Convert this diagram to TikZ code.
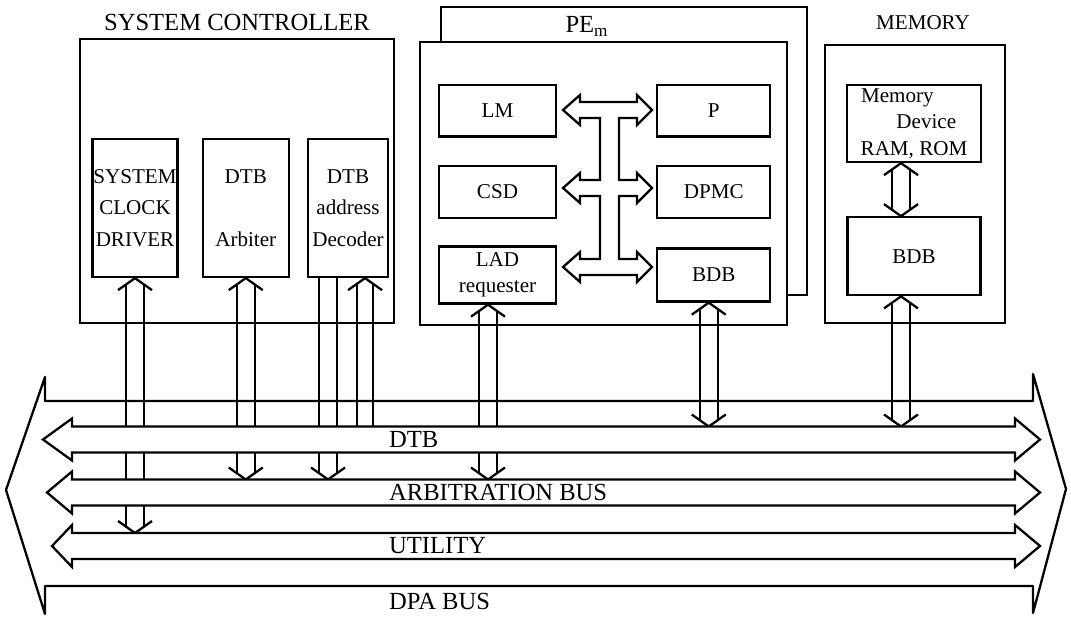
\documentclass[tikz,border=0pt]{standalone}
\usepackage{fontspec}
\setmainfont{Liberation Serif}
\usetikzlibrary{positioning, calc}

\begin{document}
\begin{tikzpicture}[x=0.02cm, y=-0.02cm, line width=1.3pt,
        % Style definitions
        block/.style={
            rectangle,
            draw=black,
            line width=1.3pt,
            align=center,
            inner sep=0pt,
            font=\fontsize{12}{18}\selectfont
        },
        boxtitle/.style={
            inner sep=0pt,
            font=\fontsize{14}{16}\selectfont
        },
        buslabel/.style={
            inner sep=0pt,
            anchor=west,
            font=\fontsize{14}{16}\selectfont
        },
        bus/.style={
            draw=black,
            fill=white,
            line join=miter
        },
        uphead/.style={insert path={++(-17,12) -- ++(17,-12) -- ++(17,12)}},
        downhead/.style={insert path={++(-17,-12) -- ++(17,12) -- ++(17,-12)}}
    ]
        \useasboundingbox (0,0) rectangle (1071,617);

        % ==========================================
        % System controller
        % ==========================================
        \node[block, minimum width=6.28cm, minimum height=5.68cm] (sysctrl) at (237,181) {};
        \node[boxtitle, above=0.12cm of sysctrl] (sctitle) {SYSTEM CONTROLLER};
        \node[block, minimum width=1.7cm, minimum height=2.76cm] (clock) at (135,208) {SYSTEM\\CLOCK\\DRIVER};
        \node[block, minimum width=1.72cm, minimum height=2.76cm, right=0.46cm of clock] (arbiter) {DTB\\[18pt]Arbiter};
        \node[block, minimum width=1.6cm, minimum height=2.76cm, right=0.34cm of arbiter] (decoder) {DTB\\address\\Decoder};

        % ==========================================
        % Processing element (with the card behind it)
        % ==========================================
        \draw (441,42) |- (807,7) |- (787,295);
        \node[block, minimum width=7.34cm, minimum height=5.66cm] (pe) at (603.5,183.5) {};
        \node[boxtitle, anchor=base] (petitle) at (587,33) {PE\textsubscript{m}};
        \node[block, minimum width=2.34cm, minimum height=1.03cm] (lm) at (497.5,110.75) {LM};
        \node[block, minimum width=2.26cm, minimum height=1.03cm, right=1.98cm of lm] (p) {P};
        \node[block, minimum width=2.34cm, minimum height=1.04cm, below=0.54cm of lm] (csd) {CSD};
        \node[block, minimum width=2.26cm, minimum height=1.04cm, right=1.98cm of csd] (dpmc) {DPMC};
        \node[block, minimum width=2.34cm, minimum height=1.14cm, below=0.53cm of csd,
              font=\fontsize{12}{15}\selectfont] (lad) {LAD\\requester};
        \node[block, minimum width=2.26cm, minimum height=1.06cm, right=1.98cm of lad] (pebdb) {BDB};

        % Local bus inside the PE
        \draw (563,110) -- (580,95) -- (580,102) -- (637,102) -- (637,95) -- (652,110) -- (637,125) -- (637,118)
            -- (619,118) -- (619,180) -- (637,180) -- (637,173) -- (652,188) -- (637,203) -- (637,196)
            -- (619,196) -- (619,259) -- (637,259) -- (637,252) -- (652,267) -- (637,282) -- (637,275)
            -- (580,275) -- (580,282) -- (563,267) -- (580,252) -- (580,259)
            -- (600,259) -- (600,196) -- (580,196) -- (580,203) -- (563,188) -- (580,173) -- (580,180)
            -- (600,180) -- (600,118) -- (580,118) -- (580,125) -- cycle;

        % ==========================================
        % Memory
        % ==========================================
        \node[block, minimum width=3.6cm, minimum height=5.56cm] (memory) at (915,184) {};
        \node[boxtitle, above=0.26cm of memory, xshift=0.16cm, font=\fontsize{12}{14}\selectfont] (memtitle) {MEMORY};
        \node[block, minimum width=2.68cm, minimum height=1.54cm, font=\fontsize{12}{15}\selectfont] (memdev)
            at (914,123.5) {Memory\hspace*{19pt}\\\hspace*{14pt}Device\\RAM, ROM};
        \node[block, minimum width=2.66cm, minimum height=1.56cm, below=1.06cm of memdev] (membdb) {BDB};

        % ==========================================
        % Connections to the buses
        % ==========================================
        \coordinate (dtbtop) at (0,426.5);
        \coordinate (arbtop) at (0,479.5);
        \coordinate (utiltop) at (0,533);
        \coordinate (decout) at ([xshift=-0.4cm]decoder.south);
        \coordinate (decin) at ([xshift=0.34cm]decoder.south);
        \coordinate (ladbus) at ([xshift=-0.19cm]lad.south);
        \coordinate (pebus) at ([xshift=-0.1cm]pebdb.south);
        \coordinate (membus) at ([xshift=-0.26cm]membdb.south);
        \coordinate (memup) at ([xshift=-0.26cm]memdev.south);
        \coordinate (memdown) at ([xshift=-0.26cm]membdb.north);

        % two-way links
        \foreach \from/\to in {clock.south/utiltop, arbiter.south/arbtop, ladbus/arbtop, pebus/dtbtop, membus/dtbtop, memup/memdown} {
            \draw ($(\from)+(-9,6)$) -- ($(\from |- \to)+(-9,-6)$)
                  ($(\from)+(9,6)$) -- ($(\from |- \to)+(9,-6)$);
            \draw (\from) [uphead] (\from |- \to) [downhead];
        }

        % decoder: one link out, one link in
        \draw (decout) ++(-9,0) -- ($(decout |- arbtop)+(-9,-6)$)
              (decout) ++(9,0) -- ($(decout |- arbtop)+(9,-6)$);
        \draw (decout |- arbtop) [downhead];
        \draw ($(decin)+(-8,6)$) -- ($(decin |- dtbtop)+(-8,0)$)
              ($(decin)+(8,6)$) -- ($(decin |- dtbtop)+(8,0)$);
        \draw (decin) [uphead];

        % ==========================================
        % Buses
        % ==========================================
        \draw[line join=round] (6,490) -- (45,377) -- (45,401) -- (1033,401) -- (1033,374) -- (1066,489)
            -- (1033,613) -- (1033,586) -- (45,586) -- (45,614) -- cycle;
        \node[buslabel] (dpa) at (388,601) {DPA BUS};

        \foreach \yc/\tip/\id/\txt in {439.5/43/dtb/DTB, 492.5/47/arb/ARBITRATION BUS, 546/52/util/UTILITY} {
            \draw[bus] (\tip,\yc) -- (72,\yc-21) -- (72,\yc-13) -- (1015,\yc-13) -- (1015,\yc-21) -- (1040,\yc)
                -- (1015,\yc+21) -- (1015,\yc+13) -- (72,\yc+13) -- (72,\yc+21) -- cycle;
            \node[buslabel] (\id) at (388,\yc) {\txt};
        }

    \end{tikzpicture}
\end{document}
